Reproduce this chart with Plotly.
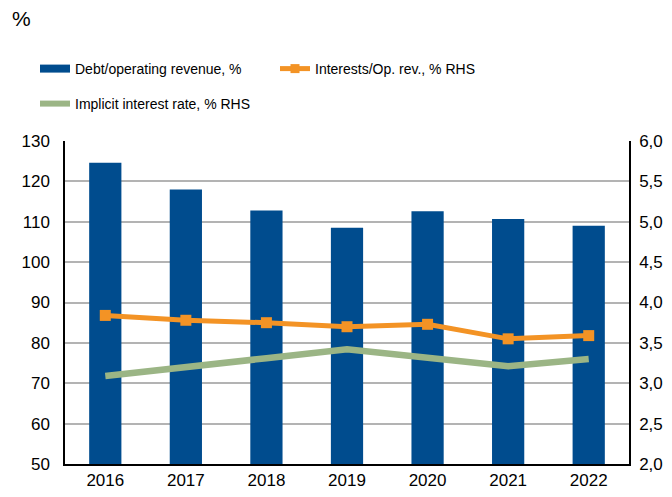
import plotly.graph_objects as go

anos = ['2016', '2017', '2018', '2019', '2020', '2021', '2022']
divida_receita = [124.6, 118.0, 112.8, 108.5, 112.6, 110.7, 109.0]
juros_receita = [3.84, 3.78, 3.75, 3.70, 3.73, 3.55, 3.59]
taxa_implicita = [3.09, 3.21, 3.31, 3.42, 3.31, 3.21, 3.30]

AZUL = '#004C8E'
LARANJA = '#F39325'
VERDE = '#9BB585'
FAMILIA = 'Liberation Sans, Arial, sans-serif'
FONTE = dict(family=FAMILIA, size=17, color='#000000')
FONTE_LEG = dict(family=FAMILIA, size=14, color='#000000')

# a página tem margem de 8px no body, por isso a figura é 8px menor
W, H = 664, 489

fig = go.Figure()

fig.add_trace(go.Bar(x=anos, y=divida_receita, marker_color=AZUL, marker_line_width=0,
                     showlegend=False, name='Debt/operating revenue, %'))
fig.add_trace(go.Scatter(x=anos, y=taxa_implicita, yaxis='y2', mode='lines',
                         line=dict(color=VERDE, width=6.5), showlegend=False,
                         name='Implicit interest rate, % RHS'))
fig.add_trace(go.Scatter(x=anos, y=juros_receita, yaxis='y2', mode='lines+markers',
                         line=dict(color=LARANJA, width=5),
                         marker=dict(symbol='square', size=11, color=LARANJA),
                         showlegend=False, name='Interests/Op. rev., % RHS'))

# entradas da legenda (estilo Excel: barra como traço grosso)
fig.add_trace(go.Scatter(x=[None], y=[None], mode='lines', line=dict(color=AZUL, width=8),
                         name='Debt/operating revenue, %', legend='legend'))
fig.add_trace(go.Scatter(x=[None], y=[None], mode='lines+markers', line=dict(color=LARANJA, width=5),
                         marker=dict(symbol='square', size=9, color=LARANJA),
                         name='Interests/Op. rev., % RHS', legend='legend'))
fig.add_trace(go.Scatter(x=[None], y=[None], mode='lines', line=dict(color=VERDE, width=6),
                         name='Implicit interest rate, % RHS', legend='legend2'))

fig.update_layout(
    width=W, height=H,
    margin=dict(l=57, r=43, t=133, b=33, autoexpand=False),
    paper_bgcolor='white', plot_bgcolor='white',
    font=FONTE,
    separators=',.',
    bargap=0.6,
    xaxis=dict(showline=True, linecolor='black', linewidth=1.5, ticks='', showgrid=False,
               tickfont=FONTE),
    yaxis=dict(range=[50, 130], dtick=10, showline=True, linecolor='black', linewidth=1.5,
               showgrid=True, gridcolor='#B3B3B3', gridwidth=1.5, ticks='', zeroline=False,
               tickfont=FONTE, ticklabelstandoff=10),
    yaxis2=dict(range=[2, 6], dtick=0.5, tickformat='.1f', overlaying='y', side='right',
                showline=True, linecolor='black', linewidth=1.5, showgrid=False, ticks='',
                zeroline=False, tickfont=FONTE, ticklabelstandoff=5),
    legend=dict(orientation='h', x=27 / W, y=1 - 61 / H, xref='container', yref='container',
                xanchor='left', yanchor='middle', entrywidth=195, font=FONTE_LEG,
                bgcolor='rgba(0,0,0,0)', itemwidth=30),
    legend2=dict(orientation='h', x=27 / W, y=1 - 96 / H, xref='container', yref='container',
                 xanchor='left', yanchor='middle', font=FONTE_LEG, bgcolor='rgba(0,0,0,0)',
                 itemwidth=30),
    annotations=[dict(text='%', x=(2 - 57) / 564, y=1 + (133 - 10) / 323, xref='paper', yref='paper',
                      xanchor='left', yanchor='middle', showarrow=False,
                      font=dict(family=FAMILIA, size=21))],
)

fig.write_html('out.html')
